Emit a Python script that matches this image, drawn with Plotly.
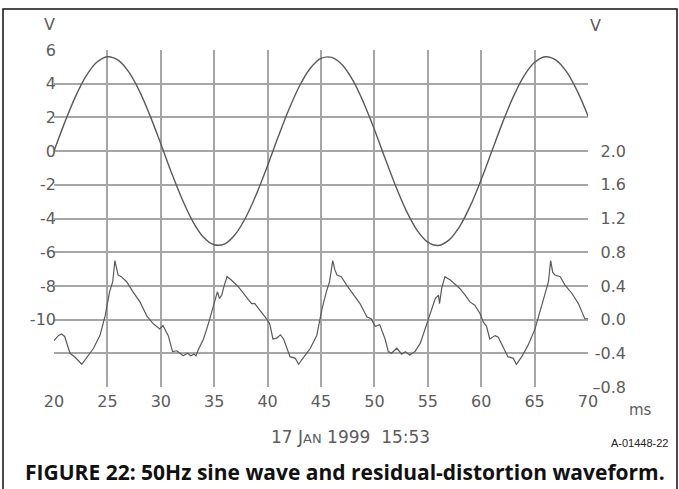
import plotly.graph_objects as go

# ---- data -------------------------------------------------------------
# 50 Hz mains waveform (left axis, V), sampled every 1 ms
sine_t = list(range(20, 71))
sine_v = [0.00, 1.69, 3.22, 4.45, 5.27, 5.60, 5.40, 4.70, 3.56, 2.09,
          0.43, -1.28, -2.86, -4.18, -5.11, -5.56, -5.50, -4.92, -3.88, -2.48,
          -0.86, 0.86, 2.48, 3.88, 4.92, 5.50, 5.56, 5.11, 4.18, 2.86,
          1.28, -0.43, -2.09, -3.56, -4.70, -5.40, -5.60, -5.27, -4.45, -3.22,
          -1.69, 0.00, 1.69, 3.22, 4.45, 5.27, 5.60, 5.40, 4.70, 3.56,
          2.09]

# residual distortion (right axis, V)
res_t = [20.0, 20.4, 20.7, 21.0, 21.5, 22.0, 22.6, 23.1, 23.7, 24.3,
         24.8, 25.2, 25.5, 25.7, 25.85, 26.0, 26.3, 26.8, 27.4, 28.05,
         28.7, 29.3, 29.9, 30.2, 30.7, 31.1, 31.5, 32.1, 32.5, 32.8,
         33.1, 33.3, 33.5, 34.0, 34.45, 34.9, 35.3, 35.5, 35.7, 35.95,
         36.2, 36.6, 37.25, 38.0, 38.5, 38.8, 39.3, 39.9, 40.2, 40.5,
         40.85, 41.2, 41.5, 41.8, 42.1, 42.6, 42.9, 43.3, 44.0, 44.6,
         45.1, 45.5, 45.8, 46.1, 46.3, 46.5, 46.9, 47.4, 48.0, 48.65,
         49.3, 49.7, 50.06, 50.5, 51.0, 51.3, 51.6, 52.1, 52.55, 52.9,
         53.3, 53.8, 54.3, 54.7, 55.2, 55.7, 56.0, 56.1, 56.3, 56.6,
         57.1, 57.7, 58.0, 58.5, 58.95, 59.4, 59.9, 60.2, 60.5, 60.8,
         61.3, 61.6, 62.1, 62.5, 63.0, 63.3, 63.8, 64.4, 65.04, 65.5,
         66.0, 66.3, 66.5, 66.7, 66.9, 67.4, 67.85, 68.5, 69.1, 69.4,
         69.7, 70.0]
res_v = [-0.25, -0.19, -0.17, -0.20, -0.40, -0.45, -0.53, -0.45, -0.34, -0.19,
         0.05, 0.33, 0.45, 0.70, 0.62, 0.53, 0.51, 0.45, 0.33, 0.21,
         0.04, -0.05, -0.11, -0.07, -0.19, -0.38, -0.37, -0.43, -0.40, -0.43,
         -0.41, -0.43, -0.36, -0.23, -0.05, 0.15, 0.33, 0.25, 0.29, 0.41,
         0.51, 0.47, 0.39, 0.27, 0.19, 0.19, 0.11, 0.01, -0.05, -0.23,
         -0.22, -0.18, -0.23, -0.34, -0.44, -0.46, -0.53, -0.46, -0.34, -0.19,
         0.13, 0.33, 0.45, 0.70, 0.59, 0.53, 0.51, 0.41, 0.31, 0.19,
         0.03, 0.01, -0.08, -0.06, -0.23, -0.38, -0.40, -0.34, -0.41, -0.38,
         -0.42, -0.38, -0.28, -0.13, 0.05, 0.25, 0.29, 0.19, 0.37, 0.51,
         0.47, 0.41, 0.37, 0.29, 0.21, 0.17, 0.07, -0.03, -0.08, -0.23,
         -0.19, -0.21, -0.34, -0.44, -0.46, -0.53, -0.44, -0.30, -0.11, 0.09,
         0.33, 0.45, 0.70, 0.56, 0.53, 0.51, 0.41, 0.31, 0.19, 0.09,
         0.01, 0.01]

x_ticks = [20, 25, 30, 35, 40, 45, 50, 55, 60, 65, 70]
left_ticks = [-14, -12, -10, -8, -6, -4, -2, 0, 2, 4, 6]
left_text = ["", "", "-10", "-8", "-6", "-4", "-2", "0", "2", "4", "6"]
right_ticks = [-0.8, -0.4, 0.0, 0.4, 0.8, 1.2, 1.6, 2.0]
right_text = ["\u20130.8", "-0.4", "0.0", "0.4", "0.8", "1.2", "1.6", "2.0"]

# ---- page geometry (pixels) -------------------------------------------
W, H = 679, 489
L, R, T, B = 54, 39, 50, 102
PLOT_RIGHT = 588                      # right edge of the grid
PW, PH = W - L - R, H - T - B


def px(x):
    return (x - L) / PW


def py(y):
    return (H - B - y) / PH


GRID = "#a6a6a6"
INK = "#5a5a5a"
TXT = "#5c5c5c"
SANS = "DejaVu Sans, Verdana, sans-serif"
TICKFONT = dict(family=SANS, size=16, color=TXT)

fig = go.Figure()
fig.add_trace(go.Scatter(x=sine_t, y=sine_v, mode="lines", line_shape="spline",
                         line=dict(color=INK, width=1.4), yaxis="y",
                         hoverinfo="skip", showlegend=False))
fig.add_trace(go.Scatter(x=res_t, y=res_v, mode="lines",
                         line=dict(color=INK, width=1.2), yaxis="y2",
                         hoverinfo="skip", showlegend=False))

fig.update_layout(
    width=W, height=H,
    margin=dict(l=L, r=R, t=T, b=B, pad=0),
    paper_bgcolor="white", plot_bgcolor="white",
    font=dict(family=SANS, size=16, color=TXT),
    xaxis=dict(domain=[0, px(PLOT_RIGHT)], range=[20, 70],
               tickmode="array", tickvals=x_ticks, ticks="",
               ticklabelstandoff=3,
               showgrid=True, gridcolor=GRID, gridwidth=1.5,
               zeroline=False, showline=False, fixedrange=True,
               tickfont=TICKFONT),
    yaxis=dict(range=[-14, 6], tickmode="array", tickvals=left_ticks,
               ticktext=left_text, ticks="", ticklabelstandoff=-3,
               showgrid=True, gridcolor=GRID, gridwidth=1.5,
               zeroline=False, showline=False, fixedrange=True,
               tickfont=TICKFONT),
    yaxis2=dict(range=[-0.8, 3.2], overlaying="y", side="left",
                anchor="free", position=px(626), tickmode="array",
                tickvals=right_ticks, ticktext=right_text, ticks="",
                showgrid=False, zeroline=False, showline=False,
                fixedrange=True, tickfont=TICKFONT),
)

ann = [
    dict(text="V", x=px(49), y=py(25), size=16, color=TXT, family=SANS),
    dict(text="V", x=px(595), y=py(26), size=16, color=TXT, family=SANS),
    dict(text="ms", x=px(640), y=py(410), size=15, color=TXT, family=SANS),
    dict(text="17 J<span style='font-size:13px'>AN</span> 1999  15:53",
         x=px(350), y=py(437), size=17, color=TXT, family=SANS),
    dict(text="A-01448-22", x=px(640), y=py(443), size=11, color="#222",
         family="Liberation Sans Narrow, Arial Narrow, sans-serif"),
    dict(text="<b>FIGURE 22: 50Hz sine wave and residual-distortion waveform.</b>",
         x=px(345), y=py(472), size=21, color="#111",
         family="Open Sans, Noto Sans, sans-serif"),
]
for a in ann:
    fig.add_annotation(text=a["text"], x=a["x"], y=a["y"], xref="paper",
                       yref="paper", xanchor="center", yanchor="middle",
                       showarrow=False,
                       font=dict(size=a["size"], color=a["color"],
                                 family=a["family"]))

# outer frame around the figure (open at the bottom)
fx0, fx1, fy0, fy1 = px(3), px(677), py(489), py(9)
fig.add_shape(type="path", xref="paper", yref="paper",
              path=f"M {fx0} {fy0} L {fx0} {fy1} L {fx1} {fy1} L {fx1} {fy0}",
              line=dict(color="#111", width=1.5))

fig.write_html("out.html", config=dict(displayModeBar=False))
